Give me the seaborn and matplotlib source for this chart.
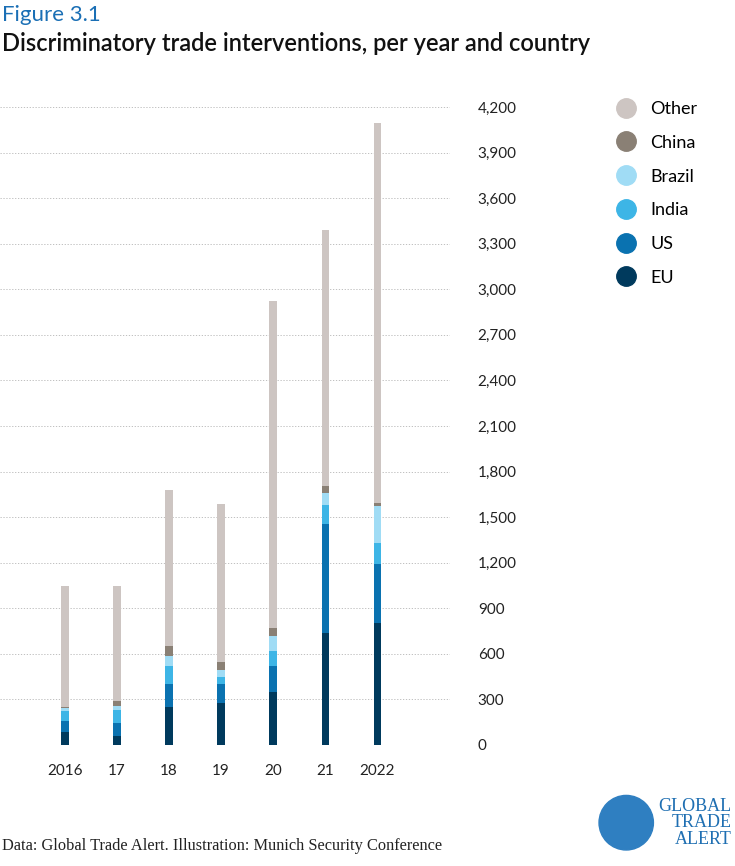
import numpy as np
import pandas as pd
import matplotlib.pyplot as plt
import seaborn as sns
from matplotlib.lines import Line2D
from matplotlib.patches import Ellipse

years = ['2016', '17', '18', '19', '20', '21', '2022']
eu = [88, 59, 253, 279, 352, 735, 803]
us = [72, 84, 147, 125, 167, 717, 387]
india = [66, 88, 121, 42, 97, 128, 137]
brazil = [16, 24, 64, 49, 101, 81, 246]
china = [11, 37, 64, 53, 53, 44, 18]
other = [796, 753, 1029, 1039, 2150, 1684, 2506]

series = ['EU', 'US', 'India', 'Brazil', 'China', 'Other']
values = [eu, us, india, brazil, china, other]
colors = ['#003a5d', '#0a72b0', '#3db5e6', '#a0dcf5', '#8a8075', '#cdc5c2']

plt.rcParams['font.family'] = 'Lato'
fig = plt.figure(figsize=(7.35, 8.66), dpi=100)
ax = fig.add_axes([0.0, 1 - 745 / 866, 450 / 735, (745 - 107) / 866])

bottom = np.zeros(len(years))
for name, vals, col in zip(series, values, colors):
    df = pd.DataFrame({'year': years, 'v': vals})
    sns.barplot(data=df, x='year', y='v', color=col, width=0.14, bottom=bottom,
                ax=ax, saturation=1, linewidth=0, zorder=3)
    bottom = bottom + np.array(vals)

ax.set_ylim(0, 4200)
ax.set_xlim(-1.25, 7.4)
ax.set_yticks(range(0, 4201, 300))
ax.set_yticklabels([f'{t:,}' for t in range(0, 4201, 300)], fontsize=11, color='#222222')
ax.yaxis.tick_right()
ax.tick_params(axis='y', length=0, pad=20)
ax.tick_params(axis='x', length=0, pad=14, labelsize=11, labelcolor='#222222')
for lab in ax.get_yticklabels():
    lab.set_horizontalalignment('left')
ax.grid(axis='y', linestyle=(0, (1.5, 2)), color='#b5b5b5', linewidth=0.6, zorder=0)
ax.set_xlabel('')
ax.set_ylabel('')
for s in ax.spines.values():
    s.set_visible(False)

handles = [Line2D([], [], marker='o', linestyle='', markersize=14, color=c)
           for c in reversed(colors)]
fig.legend(handles, list(reversed(series)), loc='upper left', bbox_to_anchor=(0.805, 0.902),
           frameon=False, fontsize=13, handletextpad=0.35, labelspacing=0.98)

fig.text(0.003, 0.983, 'Figure 3.1', fontsize=16, color='#1a6fb5', va='center')
fig.text(0.003, 0.950, 'Discriminatory trade interventions, per year and country',
         fontsize=17, color='#111111', va='center', fontweight='semibold')
fig.text(0.003, 0.023, 'Data: Global Trade Alert. Illustration: Munich Security Conference',
         fontsize=11.8, family='Liberation Serif', color='#222222', va='center')
fig.text(0.995, 0.05, 'GLOBAL\nTRADE\nALERT', fontsize=13, family='Liberation Serif',
         color='#1f6fb2', ha='right', va='center', linespacing=0.95)
fig.patches.append(Ellipse((0.852, 0.05), 0.074, 0.063, transform=fig.transFigure,
                           color='#2f7fc1', zorder=3))

fig.savefig('out.png', dpi=100)
